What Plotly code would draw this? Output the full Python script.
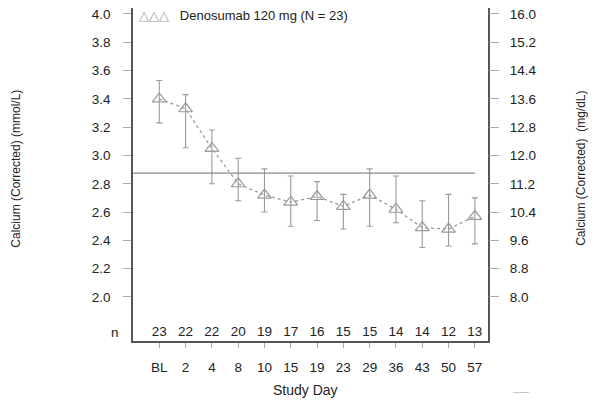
import plotly.graph_objects as go

# datos
days = ["BL", "2", "4", "8", "10", "15", "19", "23", "29", "36", "43", "50", "57"]
n_subj = [23, 22, 22, 20, 19, 17, 16, 15, 15, 14, 14, 12, 13]
calcium = [3.40, 3.33, 3.05, 2.80, 2.72, 2.67, 2.71, 2.64, 2.72, 2.62, 2.49, 2.48, 2.57]
err_hi = [3.53, 3.43, 3.18, 2.98, 2.905, 2.855, 2.815, 2.725, 2.905, 2.855, 2.68, 2.725, 2.70]
err_lo = [3.23, 3.055, 2.80, 2.68, 2.60, 2.50, 2.54, 2.48, 2.50, 2.525, 2.35, 2.36, 2.375]
ref_mgdl = 11.5  # límite superior (mg/dL)

mmol_ticks = [2.0, 2.2, 2.4, 2.6, 2.8, 3.0, 3.2, 3.4, 3.6, 3.8, 4.0]
mgdl_ticks = [8.0, 8.8, 9.6, 10.4, 11.2, 12.0, 12.8, 13.6, 14.4, 15.2, 16.0]

pos = list(range(len(days)))
y_range = [1.689, 4.042]
n_level = 1.75

font = "Liberation Sans, Arial, sans-serif"
gray = "#9a9a9a"
dark = "#222222"

fig = go.Figure()

# línea de referencia en mg/dL (eje derecho)
fig.add_trace(
    go.Scatter(
        x=[pos[0] - 1, pos[-1]],
        y=[ref_mgdl, ref_mgdl],
        mode="lines",
        line={"color": "#8a8a8a", "width": 1.2},
        yaxis="y2",
        showlegend=False,
        hoverinfo="skip",
    )
)

fig.add_trace(
    go.Scatter(
        x=pos,
        y=calcium,
        mode="lines+markers",
        line={"color": gray, "width": 1.3, "dash": "dot"},
        marker={
            "symbol": "triangle-up-open",
            "size": 12,
            "color": gray,
            "line": {"width": 1.2},
        },
        error_y={
            "type": "data",
            "symmetric": False,
            "array": [h - c for h, c in zip(err_hi, calcium)],
            "arrayminus": [c - l for l, c in zip(err_lo, calcium)],
            "color": gray,
            "thickness": 1.1,
            "width": 3,
        },
        name="Denosumab 120 mg (N = 23)",
        showlegend=False,
    )
)

# fila de n
fig.add_trace(
    go.Scatter(
        x=pos,
        y=[n_level] * len(pos),
        mode="text",
        text=[str(v) for v in n_subj],
        textfont={"family": font, "size": 13.5, "color": dark},
        showlegend=False,
        hoverinfo="skip",
    )
)

# la página deja 8 px de margen arriba y a la izquierda
fig.update_layout(
    width=588,
    height=393,
    margin={"l": 125, "r": 108, "t": 0, "b": 60},
    paper_bgcolor="white",
    plot_bgcolor="white",
    font={"family": font, "size": 12, "color": dark},
    xaxis={
        "range": [pos[0] - 1, pos[-1] + 0.5],
        "tickvals": pos,
        "ticktext": days,
        "ticks": "outside",
        "ticklen": 5,
        "tickcolor": "#aaaaaa",
        "ticklabelstandoff": 8,
        "showgrid": False,
        "zeroline": False,
        "showline": True,
        "linecolor": "#555555",
        "linewidth": 1.5,
        "mirror": True,
        "automargin": False,
        "tickfont": {"size": 13.5},
    },
    yaxis={
        "range": y_range,
        "tickvals": mmol_ticks,
        "ticktext": [f"{v:.1f}" for v in mmol_ticks],
        "ticks": "outside",
        "ticklen": 8,
        "tickcolor": "#aaaaaa",
        "ticklabelstandoff": 10,
        "ticklabeloverflow": "allow",
        "showgrid": False,
        "zeroline": False,
        "showline": True,
        "linecolor": "#555555",
        "linewidth": 1.5,
        "mirror": True,
        "automargin": False,
        "tickfont": {"size": 13.5},
    },
    yaxis2={
        "range": [v * 4 for v in y_range],
        "overlaying": "y",
        "side": "right",
        "tickvals": mgdl_ticks,
        "ticktext": [f"{v:.1f}" for v in mgdl_ticks],
        "ticks": "outside",
        "ticklen": 10,
        "tickcolor": "#aaaaaa",
        "ticklabelstandoff": 8,
        "ticklabeloverflow": "allow",
        "showgrid": False,
        "zeroline": False,
        "showline": False,
        "automargin": False,
        "tickfont": {"size": 13.5},
    },
)

# títulos y leyenda
fig.add_annotation(
    text="Calcium (Corrected) (mmol/L)",
    xref="paper", yref="paper", x=-0.330, y=0.517,
    xanchor="center", yanchor="middle",
    textangle=-90, showarrow=False, font={"size": 12},
)
fig.add_annotation(
    text="Calcium (Corrected)  (mg/dL)",
    xref="paper", yref="paper", x=1.262, y=0.517,
    xanchor="center", yanchor="middle",
    textangle=-90, showarrow=False, font={"size": 12},
)
fig.add_annotation(
    text="Study Day",
    xref="paper", yref="paper", x=0.485, y=-0.147,
    xanchor="center", yanchor="middle",
    showarrow=False, font={"size": 14},
)
fig.add_annotation(
    text="n",
    xref="paper", yref="y", x=-0.05, y=n_level,
    xanchor="center", yanchor="middle",
    showarrow=False, font={"size": 13.5},
)
fig.add_annotation(
    text=f"<span style='color:{gray}'>△△△</span>   Denosumab 120 mg (N = 23)",
    xref="paper", yref="paper", x=0.012, y=0.978,
    xanchor="left", yanchor="middle",
    showarrow=False, font={"size": 13},
)
# marca pequeña abajo a la derecha
fig.add_annotation(
    text="——",
    xref="paper", yref="paper", x=1.093, y=-0.153,
    xanchor="center", yanchor="middle",
    showarrow=False, font={"size": 8, "color": "#9a9a9a"},
)

fig.write_html("out.html")
